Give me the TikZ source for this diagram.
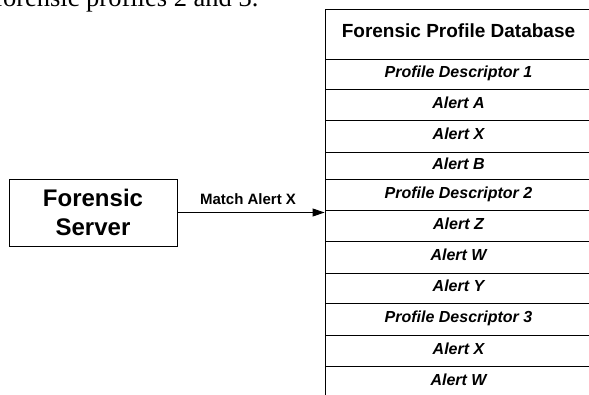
\documentclass[tikz,border=0pt]{standalone}
\usepackage{fontspec}
\setmainfont{Liberation Sans}
\newfontfamily\bodyserif{Liberation Serif}
\usetikzlibrary{arrows.meta}
\begin{document}
\begin{tikzpicture}[x=1pt,y=-1pt,
  line/.style={draw=black,line width=0.9pt},
  cell/.style={line, rectangle, minimum width=267pt, inner sep=0pt,
    text height=0.72em, text depth=0pt,
    font=\fontsize{16}{19}\selectfont\bfseries\itshape},
  hdrcell/.style={cell, text height=0.73em, text depth=0pt,
    font=\fontsize{19}{23}\selectfont\bfseries},
  serverbox/.style={line, rectangle, align=center, inner sep=0pt,
    minimum width=168pt, minimum height=67pt,
    font=\fontsize{24}{29}\selectfont\bfseries},
  arrowlabel/.style={inner sep=0pt, font=\fontsize{15}{18}\selectfont\bfseries},
  conn/.style={line, -{Triangle[length=12pt,width=8pt]}}
]
\useasboundingbox (0,0) rectangle (589,394);

\node[anchor=base west, inner sep=0pt, font=\bodyserif\fontsize{26.5}{30}\selectfont] (cap) at (-6,6) {forensic profiles 2 and 3.};

\node[hdrcell, minimum height=50pt] (hdr) at (458.5,34) {Forensic Profile Database};
\node[cell, minimum height=30pt] (r1) at (458.5,74) {Profile Descriptor 1};
\node[cell, minimum height=31pt] (r2) at (458.5,104.5) {Alert A};
\node[cell, minimum height=32pt] (r3) at (458.5,136) {Alert X};
\node[cell, minimum height=27pt] (r4) at (458.5,165.5) {Alert B};
\node[cell, minimum height=31pt] (r5) at (458.5,194.5) {Profile Descriptor 2};
\node[cell, minimum height=31pt] (r6) at (458.5,225.5) {Alert Z};
\node[cell, minimum height=32pt] (r7) at (458.5,257) {Alert W};
\node[cell, minimum height=30pt] (r8) at (458.5,288) {Alert Y};
\node[cell, minimum height=32pt] (r9) at (458.5,319) {Profile Descriptor 3};
\node[cell, minimum height=31pt] (r10) at (458.5,350.5) {Alert X};
\node[cell, minimum height=31pt] (r11) at (458.5,381.5) {Alert W};

\node[serverbox] (fs) at (93,212.5) {Forensic\\Server};

\coordinate (tip) at (fs.east -| r6.west);
\draw[conn] (fs.east) -- node[arrowlabel, above=7.5pt, pos=0.48] (lbl) {Match Alert X} (tip);
\end{tikzpicture}
\end{document}
